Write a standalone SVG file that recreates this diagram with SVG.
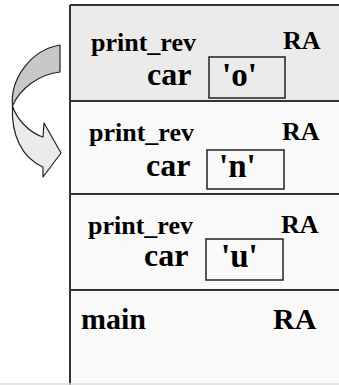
<svg xmlns="http://www.w3.org/2000/svg" width="339" height="385" viewBox="0 0 339 385">
<style>
.t{font-family:"Liberation Serif","Times New Roman",serif;font-weight:bold;fill:#000}
.s{font-size:26px}
.c{font-size:32px}
.q{font-size:33px}
.m{font-size:30px}
.v{fill:none;stroke:#222;stroke-width:1.5}
.div{stroke:#333;stroke-width:2}
.ar{stroke:#222;stroke-width:1.2;stroke-linejoin:round}
</style>
<rect x="0" y="0" width="339" height="385" fill="#ffffff"/>
<g id="stack">
<rect x="70" y="5" width="269" height="380" fill="#f9f9f9"/>
<rect x="70" y="5" width="269" height="96" fill="#ebebeb"/>
<line x1="70" y1="5" x2="339" y2="5" class="div"/>
<line x1="70" y1="5" x2="70" y2="385" class="div"/>
<line x1="0" y1="384" x2="339" y2="384" stroke="#dcdcdc" stroke-width="1.5"/>
</g>
<g id="frame1">
<text class="t s" x="91" y="51">print_rev</text>
<text class="t s" x="283" y="49">RA</text>
<text class="t c" x="147" y="85">car</text>
<rect x="209" y="57" width="76" height="41" class="v"/>
<text class="t q" x="222" y="86">'o'</text>
</g>
<line x1="70" y1="101" x2="339" y2="101" class="div"/>
<g id="frame2">
<text class="t s" x="89" y="141">print_rev</text>
<text class="t s" x="282" y="140">RA</text>
<text class="t c" x="146" y="176">car</text>
<rect x="207" y="150" width="77" height="39" class="v"/>
<text class="t q" x="219" y="177">'n'</text>
</g>
<line x1="70" y1="194" x2="339" y2="194" class="div"/>
<g id="frame3">
<text class="t s" x="88" y="234">print_rev</text>
<text class="t s" x="281" y="233">RA</text>
<text class="t c" x="144" y="266">car</text>
<rect x="206" y="239" width="77" height="41" class="v"/>
<text class="t q" x="221" y="267">'u'</text>
</g>
<line x1="70" y1="290" x2="339" y2="290" class="div"/>
<g id="main">
<text class="t m" x="81" y="329">main</text>
<text class="t m" x="273" y="329">RA</text>
</g>
<g id="connectors">
<path class="ar" fill="#c8c8c8" d="M60,45 L60,72 C40,74 20,88 12.5,106 C10,80 30,50 60,45 Z"/>
<path class="ar" fill="#ebebeb" d="M12.5,106 C11,135 22,158 43,167 L43,177 L61,153 L44,123 L43,137 C30,133 17,120 12.5,106 Z"/>
</g>
</svg>
